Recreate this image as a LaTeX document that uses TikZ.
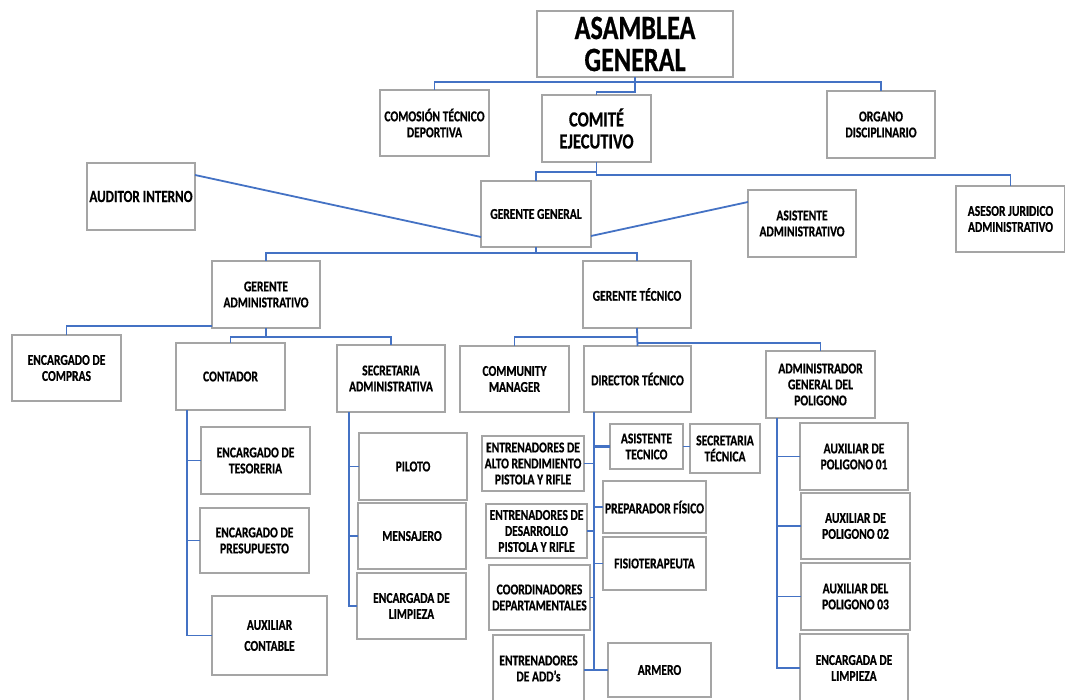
\documentclass[tikz,border=0pt]{standalone}
\usepackage{fontspec}
\setmainfont{Carlito}[FakeStretch=0.77, BoldFeatures={FakeBold=0.6}]
\definecolor{lnblue}{HTML}{4472C4}
\definecolor{bxgray}{HTML}{A5A5A5}
\tikzset{
 boxst/.style={draw=bxgray, line width=1.1pt, fill=white, rectangle, inner sep=0pt, outer sep=0pt, align=center, font=\bfseries\fontsize{15}{16}\selectfont, text=black},
 conn/.style={draw=lnblue, line width=1.8pt},
 big/.style={font=\bfseries\fontsize{34}{32}\selectfont},
 mid/.style={font=\bfseries\fontsize{21.5}{22}\selectfont},
 aud/.style={font=\bfseries\fontsize{17}{18}\selectfont},
}
\newcommand{\obox}[7]{\node[boxst,#1,minimum width={#5-#3}, minimum height={#6-#4}] (#2) at ({(#3+#5)/2},{(#4+#6)/2}) {#7};}
\begin{document}
\begin{tikzpicture}[x=1pt,y=-1pt]
\useasboundingbox (0,0) rectangle (1065,700);
\obox{big}{asam}{537}{11}{733}{77}{ASAMBLEA\\GENERAL}
\obox{}{comis}{380}{90}{489}{156}{COMOSIÓN TÉCNICO\\DEPORTIVA}
\obox{mid}{comite}{542}{95}{651}{162}{COMITÉ\\EJECUTIVO}
\obox{}{organo}{827}{91}{935}{158}{ORGANO\\DISCIPLINARIO}
\obox{aud}{audit}{87}{163}{195}{230}{AUDITOR INTERNO}
\obox{}{gg}{481}{181}{591}{247}{GERENTE GENERAL}
\obox{}{asadm}{748}{190}{856}{257}{ASISTENTE\\ADMINISTRATIVO}
\obox{}{asesor}{956}{186}{1065}{252}{ASESOR JURIDICO\\ADMINISTRATIVO}
\obox{}{gadm}{212}{261}{320}{328}{GERENTE\\ADMINISTRATIVO}
\obox{}{gtec}{583}{261}{691}{328}{GERENTE TÉCNICO}
\obox{}{compras}{12}{335}{121}{401}{ENCARGADO DE\\COMPRAS}
\obox{}{cont}{176}{343}{285}{410}{CONTADOR}
\obox{}{secad}{337}{345}{445}{412}{SECRETARIA\\ADMINISTRATIVA}
\obox{}{tes}{201}{427}{310}{494}{ENCARGADO DE\\TESORERIA}
\obox{}{pres}{200}{508}{309}{573}{ENCARGADO DE\\PRESUPUESTO}
\obox{}{auxc}{212}{596}{327}{675}{AUXILIAR\\[5pt]CONTABLE}
\obox{}{pil}{359}{433}{467}{500}{PILOTO}
\obox{}{mens}{358}{503}{466}{569}{MENSAJERO}
\obox{}{limp}{357}{573}{466}{639}{ENCARGADA DE\\LIMPIEZA}
\obox{}{comm}{460}{346}{569}{412}{COMMUNITY\\MANAGER}
\obox{}{dir}{584}{346}{691}{412}{DIRECTOR TÉCNICO}
\obox{}{admp}{766}{351}{875}{418}{ADMINISTRADOR\\GENERAL DEL\\POLIGONO}
\obox{}{ax1}{800}{423}{908}{490}{AUXILIAR DE\\POLIGONO 01}
\obox{}{ax2}{801}{493}{910}{559}{AUXILIAR DE\\POLIGONO 02}
\obox{}{ax3}{801}{563}{910}{630}{AUXILIAR DEL\\POLIGONO 03}
\obox{}{limp2}{800}{634}{908}{702}{ENCARGADA DE\\LIMPIEZA}
\obox{}{asist}{610}{424}{683}{469}{ASISTENTE\\TECNICO}
\obox{}{sect}{690}{424}{760}{473}{SECRETARIA\\TÉCNICA}
\obox{}{alto}{482}{436}{584}{491}{ENTRENADORES DE\\ALTO RENDIMIENTO\\PISTOLA Y RIFLE}
\obox{}{prep}{603}{481}{706}{533}{PREPARADOR FÍSICO}
\obox{}{desa}{486}{504}{587}{558}{ENTRENADORES DE\\DESARROLLO\\PISTOLA Y RIFLE}
\obox{}{fisio}{603}{537}{706}{590}{FISIOTERAPEUTA}
\obox{}{coord}{489}{565}{590}{630}{COORDINADORES\\DEPARTAMENTALES}
\obox{}{add}{493}{635}{584}{702}{ENTRENADORES\\DE ADD's}
\obox{}{arm}{608}{643}{711}{697}{ARMERO}
% connectors
\draw[conn] (comis.north) -- (comis.north |- 0,82) -- (organo.north |- 0,82) -- (organo.north);
\draw[conn] (asam.south) -- (asam.south |- 0,92) -| (comite.north);
\draw[conn] (comite.south) -- (comite.south |- 0,175) -| (asesor.north);
\draw[conn] (comite.south |- 0,172) -| (gg.north);
\draw[conn] ([yshift=-12pt]audit.north east) -- ([yshift=10pt]gg.south west);
\draw[conn] ([yshift=-12pt]asadm.north west) -- ([yshift=11pt]gg.south east);
\draw[conn] (gg.south) -- (gg.south |- 0,253) -| (gadm.north);
\draw[conn] (gg.south |- 0,253) -| (gtec.north);
\draw[conn] ([yshift=2pt]gadm.south west) -| (compras.north);
\draw[conn] (gadm.south) -- (gadm.south |- 0,337) -| (cont.north);
\draw[conn] (gadm.south |- 0,337) -| (secad.north);
\draw[conn] (cont.south -| 187,0) |- (auxc.west);
\draw[conn] (tes.west) -- (tes.west -| 187,0);
\draw[conn] (pres.west) -- (pres.west -| 187,0);
\draw[conn] (secad.south -| 349,0) |- (limp.west);
\draw[conn] (pil.west) -- (pil.west -| 349,0);
\draw[conn] (mens.west) -- (mens.west -| 349,0);
\draw[conn] (gtec.south) -- (dir.north);
\draw[conn] (gtec.south |- 0,337) -| (comm.north);
\draw[conn] (gtec.south |- 0,343) -| (admp.north);
\draw[conn] (admp.south -| 777,0) |- (limp2.west);
\draw[conn] (ax1.west) -- (ax1.west -| 777,0);
\draw[conn] (ax2.west) -- (ax2.west -| 777,0);
\draw[conn] (ax3.west) -- (ax3.west -| 777,0);
\draw[conn] (dir.south -| 594,0) -- (arm.west -| 594,0);
\draw[conn,line width=3.2pt] (asist.west) -- (asist.west -| 594,0);
\draw[conn] (asist.east) -- (asist.east -| sect.west);
\draw[conn] (alto.east) -- (alto.east -| 594,0);
\draw[conn] (prep.west) -- (prep.west -| 594,0);
\draw[conn] (desa.east) -- (desa.east -| 594,0);
\draw[conn] (fisio.west) -- (fisio.west -| 594,0);
\draw[conn] (coord.east) -- (coord.east -| 594,0);
\draw[conn] (arm.west) -- (arm.west -| add.east);
\end{tikzpicture}
\end{document}
